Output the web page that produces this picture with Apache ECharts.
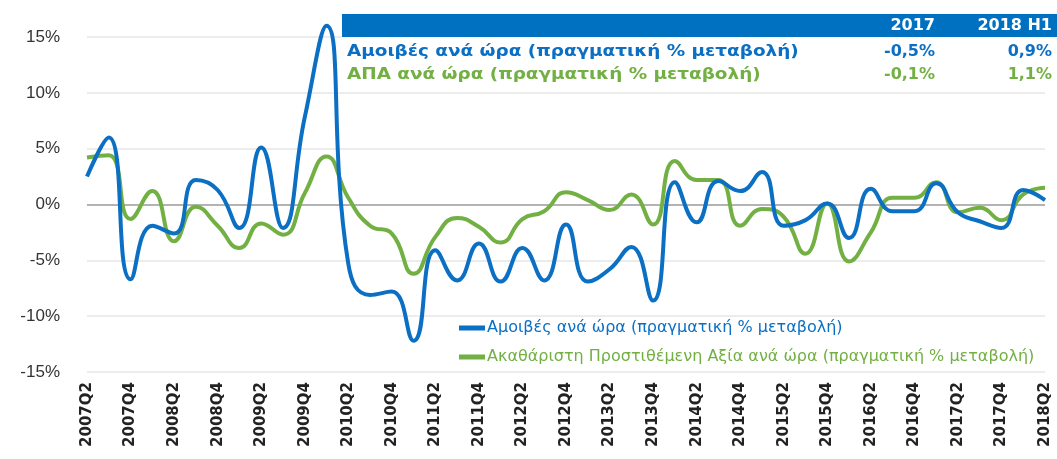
<!DOCTYPE html>
<html>
<head>
<meta charset="utf-8">
<script src="https://cdn.jsdelivr.net/npm/echarts@6/dist/echarts.min.js"></script>
<style>
  html, body { margin: 0; padding: 0; background: #fff; }
  #chart { width: 1057px; height: 459px; }
</style>
</head>
<body>
<div id="chart"></div>
<script>
// τρίμηνα
var quarters = [
    '2007Q2', '2007Q3', '2007Q4', '2008Q1', '2008Q2', '2008Q3', '2008Q4', '2009Q1', '2009Q2', '2009Q3',
    '2009Q4', '2010Q1', '2010Q2', '2010Q3', '2010Q4', '2011Q1', '2011Q2', '2011Q3', '2011Q4', '2012Q1',
    '2012Q2', '2012Q3', '2012Q4', '2013Q1', '2013Q2', '2013Q3', '2013Q4', '2014Q1', '2014Q2', '2014Q3',
    '2014Q4', '2015Q1', '2015Q2', '2015Q3', '2015Q4', '2016Q1', '2016Q2', '2016Q3', '2016Q4', '2017Q1',
    '2017Q2', '2017Q3', '2017Q4', '2018Q1', '2018Q2'
];

// Αμοιβές ανά ώρα (%)
var wages = [
    2.5, 6.0, -6.7, -1.9, -2.6, 2.2, 1.3, -2.1, 5.1, -2.1,
    7.8, 16.0, -5.3, -8.1, -7.8, -12.2, -4.1, -6.8, -3.5, -6.9,
    -3.9, -6.8, -1.8, -6.9, -5.8, -3.8, -8.6, 2.0, -1.6, 2.1,
    1.2, 2.9, -1.9, -1.4, 0.1, -3.0, 1.4, -0.6, -0.6, 1.9,
    -0.7, -1.5, -2.1, 1.3, 0.4
];

// ΑΠΑ ανά ώρα (%)
var gva = [
    4.2, 4.4, -1.3, 1.2, -3.3, -0.2, -1.9, -3.9, -1.7, -2.7,
    1.0, 4.3, 0.6, -1.9, -2.6, -6.2, -2.9, -1.2, -2.0, -3.4,
    -1.3, -0.6, 1.1, 0.4, -0.5, 0.9, -1.8, 3.9, 2.2, 2.2,
    -1.9, -0.4, -1.1, -4.4, 0.1, -5.1, -2.5, 0.6, 0.6, 2.0,
    -0.7, -0.3, -1.4, 0.9, 1.5
];

var seriesNames = [
    'Αμοιβές ανά ώρα (πραγματική % μεταβολή)',
    'Ακαθάριστη Προστιθέμενη Αξία ανά ώρα (πραγματική % μεταβολή)'
];

// πίνακας πάνω δεξιά
var tableHeader = ['2017', '2018 H1'];
var tableLabels = ['Αμοιβές ανά ώρα (πραγματική % μεταβολή)', 'ΑΠΑ ανά ώρα (πραγματική % μεταβολή)'];
var wageRow = ['-0,5%', '0,9%'];
var gvaRow = ['-0,1%', '1,1%'];

var BLUE = '#0b6fc4';
var GREEN = '#72b043';
var GRID_C = '#e6e6e6';

var chart = echarts.init(document.getElementById('chart'));

function tableText(x, y, text, color, align, sx) {
    return {
        type: 'text',
        x: x,
        y: y,
        z: 20,
        scaleX: sx || 1,
        style: {
            text: text,
            fill: color,
            textAlign: align,
            textVerticalAlign: 'middle',
            fontFamily: 'DejaVu Sans',
            fontWeight: 'bold',
            fontSize: 16
        }
    };
}

var graphics = [
    { type: 'rect', z: 10, shape: { x: 342, y: 14, width: 715, height: 23 }, style: { fill: '#0070c0' } },
    { type: 'rect', z: 10, shape: { x: 342, y: 37, width: 715, height: 50 }, style: { fill: '#fff' } },
    tableText(935, 26, tableHeader[0], '#fff', 'right'),
    tableText(1052, 26, tableHeader[1], '#fff', 'right'),
    tableText(347, 52, tableLabels[0], BLUE, 'left', 1.15),
    tableText(935, 52, wageRow[0], BLUE, 'right'),
    tableText(1052, 52, wageRow[1], BLUE, 'right'),
    tableText(347, 75, tableLabels[1], GREEN, 'left', 1.15),
    tableText(935, 75, gvaRow[0], GREEN, 'right'),
    tableText(1052, 75, gvaRow[1], GREEN, 'right')
];

var option = {
    animation: false,
    backgroundColor: '#fff',
    grid: { left: 87, right: 12, top: 37, bottom: 87 },
    legend: {
        orient: 'vertical',
        left: 454,
        top: 315,
        itemGap: 13,
        itemWidth: 26,
        itemHeight: 5,
        icon: 'rect',
        textStyle: { fontFamily: 'DejaVu Sans', fontSize: 16, padding: [0, 0, 0, -3] },
        data: [
            { name: seriesNames[0], textStyle: { color: BLUE } },
            { name: seriesNames[1], textStyle: { color: GREEN } }
        ]
    },
    xAxis: {
        type: 'category',
        data: quarters,
        boundaryGap: false,
        axisLine: { show: false },
        axisTick: { show: false },
        axisLabel: {
            interval: 1,
            rotate: 90,
            margin: 10,
            color: '#222',
            fontFamily: 'DejaVu Sans',
            fontWeight: 'bold',
            fontSize: 15
        }
    },
    yAxis: {
        type: 'value',
        min: -15,
        max: 15,
        interval: 5,
        axisLine: { show: false },
        axisTick: { show: false },
        axisLabel: {
            formatter: '{value}%',
            color: '#333',
            fontFamily: 'Liberation Sans',
            fontSize: 17,
            margin: 27
        },
        splitLine: {
            lineStyle: {
                width: 1.5,
                color: [GRID_C, GRID_C, GRID_C, '#9a9a9a', GRID_C, GRID_C, GRID_C]
            }
        }
    },
    series: [
        {
            name: seriesNames[0],
            type: 'line',
            data: wages,
            smooth: 0.5,
            clip: false,
            showSymbol: false,
            color: BLUE,
            lineStyle: { width: 4, color: BLUE },
            z: 3
        },
        {
            name: seriesNames[1],
            type: 'line',
            data: gva,
            smooth: 0.5,
            clip: false,
            showSymbol: false,
            color: GREEN,
            lineStyle: { width: 4, color: GREEN },
            z: 2
        }
    ],
    graphic: graphics
};

chart.setOption(option);
</script>
</body>
</html>
